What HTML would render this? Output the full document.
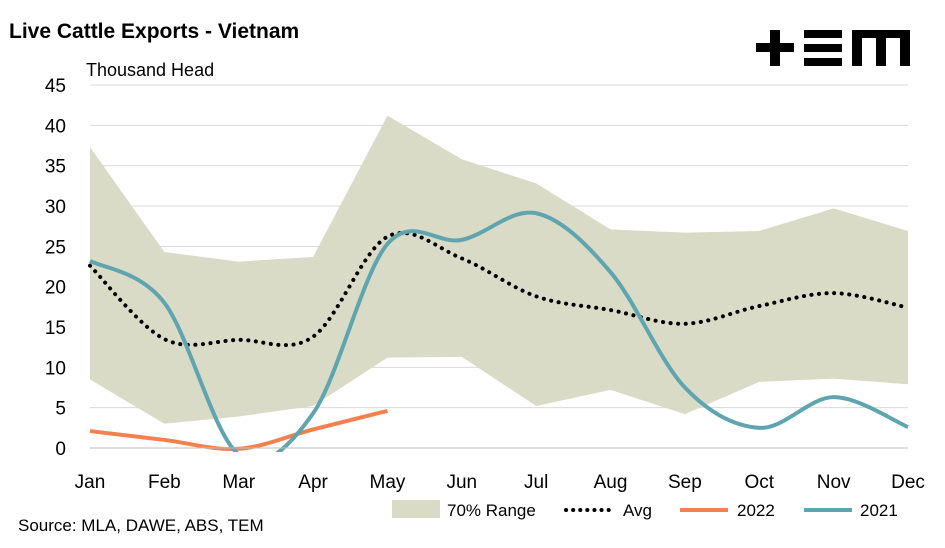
<!DOCTYPE html>
<html><head><meta charset="utf-8"><style>
body{margin:0;background:#fff;font-family:"Liberation Sans",sans-serif}
svg text{font-family:"Liberation Sans",sans-serif;fill:#000}
</style></head><body>
<svg width="945" height="543" xmlns="http://www.w3.org/2000/svg">
<defs><clipPath id="clip"><rect x="0" y="60" width="945" height="392"/></clipPath></defs>
<text x="9" y="38" font-size="21" font-weight="bold">Live Cattle Exports - Vietnam</text>
<text x="86" y="76" font-size="18">Thousand Head</text>
<g fill="#000">
<rect x="756" y="43" width="38" height="9"/><rect x="770" y="30" width="10" height="36"/>
<rect x="804" y="30" width="38" height="8"/><rect x="804" y="44" width="38" height="8"/><rect x="804" y="58" width="38" height="8"/>
<rect x="852" y="30" width="58" height="8"/><rect x="852" y="30" width="10" height="36"/><rect x="876" y="30" width="10" height="36"/><rect x="900" y="30" width="10" height="36"/>
</g>
<g id="grid"></g><g id="plot" clip-path="url(#clip)"></g><g id="axes"></g>
<g>
<rect x="392" y="500" width="48" height="18" fill="#d9dbc6"/>
<text x="447" y="516" font-size="17">70% Range</text>
<line x1="566" y1="510" x2="614" y2="510" stroke="#000" stroke-width="4" stroke-dasharray="0.1 7" stroke-linecap="round"/>
<text x="623" y="516" font-size="17">Avg</text>
<line x1="680" y1="510" x2="728" y2="510" stroke="#f4804e" stroke-width="4"/>
<text x="737" y="516" font-size="17">2022</text>
<line x1="804" y1="510" x2="852" y2="510" stroke="#5fa5b0" stroke-width="4"/>
<text x="860" y="516" font-size="17">2021</text>
</g>
<text x="18" y="531" font-size="17">Source: MLA, DAWE, ABS, TEM</text>
</svg>
<script>
const months=["Jan","Feb","Mar","Apr","May","Jun","Jul","Aug","Sep","Oct","Nov","Dec"];
const yTicks=[0,5,10,15,20,25,30,35,40,45];
const rangeUpper=[37.3,24.3,23.1,23.7,41.2,35.8,32.8,27.1,26.7,26.9,29.7,26.9];
const rangeLower=[8.5,3.0,3.9,5.2,11.2,11.3,5.2,7.2,4.2,8.2,8.6,7.9];
const avg=[22.6,13.5,13.4,13.8,26.2,23.5,18.8,17.1,15.4,17.6,19.2,17.4];
const s2021=[23.2,18,-0.8,4.3,25.3,25.8,29.1,21.8,7.5,2.5,6.3,2.6];
const s2022=[2.1,1.0,-0.1,2.3,4.6];
const NS="http://www.w3.org/2000/svg";
const X=i=>90+i*(908-90)/11, Y=v=>448-v*(448-85)/45;
function mk(t,a,p){const e=document.createElementNS(NS,t);for(const k in a)e.setAttribute(k,a[k]);document.getElementById(p).appendChild(e);return e;}
function smooth(pts){let d=`M${pts[0][0]},${pts[0][1]}`;for(let i=0;i<pts.length-1;i++){const p0=pts[Math.max(i-1,0)],p1=pts[i],p2=pts[i+1],p3=pts[Math.min(i+2,pts.length-1)];const t=1/6;d+=` C${p1[0]+(p2[0]-p0[0])*t},${p1[1]+(p2[1]-p0[1])*t} ${p2[0]-(p3[0]-p1[0])*t},${p2[1]-(p3[1]-p1[1])*t} ${p2[0]},${p2[1]}`;}return d;}
yTicks.forEach(v=>{
 if(v>0){const g=mk('line',{x1:90,x2:908,y1:Y(v),y2:Y(v),stroke:'#d9d9d9','stroke-width':1},'grid');
 
 }
 const t=mk('text',{x:66,y:Y(v)+7,'font-size':19,'text-anchor':'end'},'axes');t.textContent=v;
 
 
});
months.forEach((m,i)=>{const t=mk('text',{x:X(i),y:488,'font-size':19,'text-anchor':'middle'},'axes');t.textContent=m;
 
 });
const ax=mk('line',{x1:90,x2:908,y1:448,y2:448,stroke:'#bfbfbf','stroke-width':1},'axes');


let pd='M'+rangeUpper.map((v,i)=>X(i)+','+Y(v)).join(' L')+' L'+rangeLower.map((v,i)=>[X(i),Y(v)]).reverse().map(p=>p.join(',')).join(' L')+'Z';
const area=mk('path',{d:pd,fill:'#d9dbc6'},'plot');


const a=mk('path',{d:smooth(avg.map((v,i)=>[X(i),Y(v)])),fill:'none',stroke:'#000','stroke-width':4,'stroke-dasharray':'0.1 7.5','stroke-linecap':'round'},'plot');


const l22=mk('path',{d:smooth(s2022.map((v,i)=>[X(i),Y(v)])),fill:'none',stroke:'#f4804e','stroke-width':4},'plot');


const l21=mk('path',{d:smooth(s2021.map((v,i)=>[X(i),Y(v)])),fill:'none',stroke:'#5fa5b0','stroke-width':4},'plot');


</script>
</body></html>
